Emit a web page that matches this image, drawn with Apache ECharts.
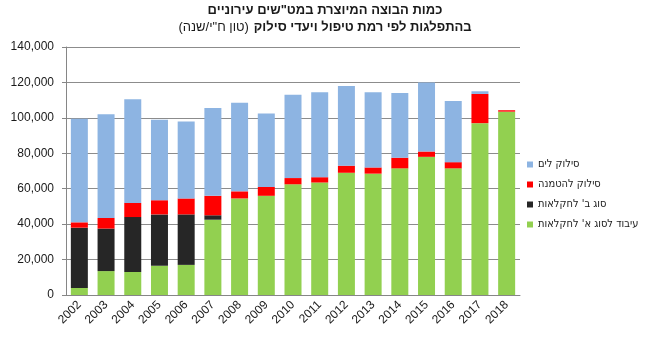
<!DOCTYPE html>
<html>
<head>
<meta charset="utf-8">
<script src="https://cdn.jsdelivr.net/npm/echarts@6/dist/echarts.min.js"></script>
<style>
  html, body { margin: 0; padding: 0; background: #fff; }
  #chart { width: 650px; height: 341px; }
</style>
</head>
<body>
<div id="chart"></div>
<script>
// Sludge quantities from municipal WWTPs by treatment level and disposal route (ton DS / year)
const years = ['2002', '2003', '2004', '2005', '2006', '2007', '2008', '2009', '2010',
  '2011', '2012', '2013', '2014', '2015', '2016', '2017', '2018'];

const classA = [4000, 13500, 13000, 16500, 17000, 42500, 54500, 56000, 62500,
  63500, 69000, 68500, 71500, 78000, 71500, 97000, 103500];
const classB = [34000, 24000, 31000, 29000, 28500, 2500, 0, 0, 0,
  0, 0, 0, 0, 0, 0, 0, 0];
const landfill = [3000, 6000, 8000, 8000, 9000, 11000, 4000, 5000, 3500,
  3000, 4000, 3500, 6000, 3000, 3500, 16500, 800];
const sea = [58500, 58500, 58500, 45500, 43500, 49500, 50000, 41500, 47000,
  48000, 45000, 42500, 36500, 39000, 34500, 1500, 0];

const yTicks = [0, 20000, 40000, 60000, 80000, 100000, 120000, 140000];

const names = {
  sea: 'סילוק לים',
  landfill: 'סילוק להטמנה',
  classB: "סוג ב' לחקלאות",
  classA: "עיבוד לסוג א' לחקלאות"
};

const FONT = '"Liberation Sans", Arial, "DejaVu Sans", sans-serif';
const CONDENSED = '"DejaVu Sans Condensed", "DejaVu Sans", sans-serif';
const chart = echarts.init(document.getElementById('chart'));

function barSeries(name, data, color) {
  return {
    name: name,
    type: 'bar',
    stack: 'total',
    data: data,
    barWidth: 17,
    itemStyle: { color: color },
    emphasis: { disabled: true }
  };
}

chart.setOption({
  animation: false,
  backgroundColor: '#ffffff',
  textStyle: { fontFamily: FONT },
  title: {
    left: 'center',
    top: 3,
    padding: [0, 0, 0, 16],
    text: '{b|כמות הבוצה המיוצרת במט"שים עירוניים}\n{n|(טון ח"י/שנה)} {b|בהתפלגות לפי רמת טיפול ויעדי סילוק}',
    textStyle: {
      rich: {
        b: { fontFamily: FONT, fontSize: 13, fontWeight: 'bold', color: '#1a1a1a', lineHeight: 15 },
        n: { fontFamily: FONT, fontSize: 13, fontWeight: 'normal', color: '#1a1a1a', lineHeight: 15 }
      }
    }
  },
  legend: {
    orient: 'vertical',
    left: 522,
    top: 153,
    itemWidth: 6,
    itemHeight: 6,
    itemGap: 7,
    icon: 'rect',
    data: [names.sea, names.landfill, names.classB, names.classA],
    textStyle: { fontFamily: CONDENSED, fontSize: 11, color: '#1a1a1a', lineHeight: 13 }
  },
  grid: { left: 66, right: 130, top: 47, bottom: 46, containLabel: false },
  xAxis: {
    type: 'category',
    data: years,
    boundaryGap: true,
    axisLine: { lineStyle: { color: '#868686' } },
    axisTick: { alignWithLabel: false, length: 5, lineStyle: { color: '#868686' } },
    axisLabel: { rotate: 45, fontSize: 12, color: '#1a1a1a', margin: 8, fontFamily: FONT }
  },
  yAxis: {
    type: 'value',
    min: yTicks[0],
    max: yTicks[yTicks.length - 1],
    interval: yTicks[1] - yTicks[0],
    axisLine: { show: true, lineStyle: { color: '#868686' } },
    axisTick: { show: true, length: 4, lineStyle: { color: '#868686' } },
    splitLine: { lineStyle: { color: '#8c8c8c', width: 1 } },
    axisLabel: {
      fontSize: 12, color: '#1a1a1a', margin: 12, fontFamily: FONT,
      formatter: v => v.toLocaleString('en-US')
    }
  },
  series: [
    barSeries(names.classA, classA, '#92D050'),
    barSeries(names.classB, classB, '#262626'),
    barSeries(names.landfill, landfill, '#FF0000'),
    barSeries(names.sea, sea, '#8DB4E2')
  ]
});
</script>
</body>
</html>
